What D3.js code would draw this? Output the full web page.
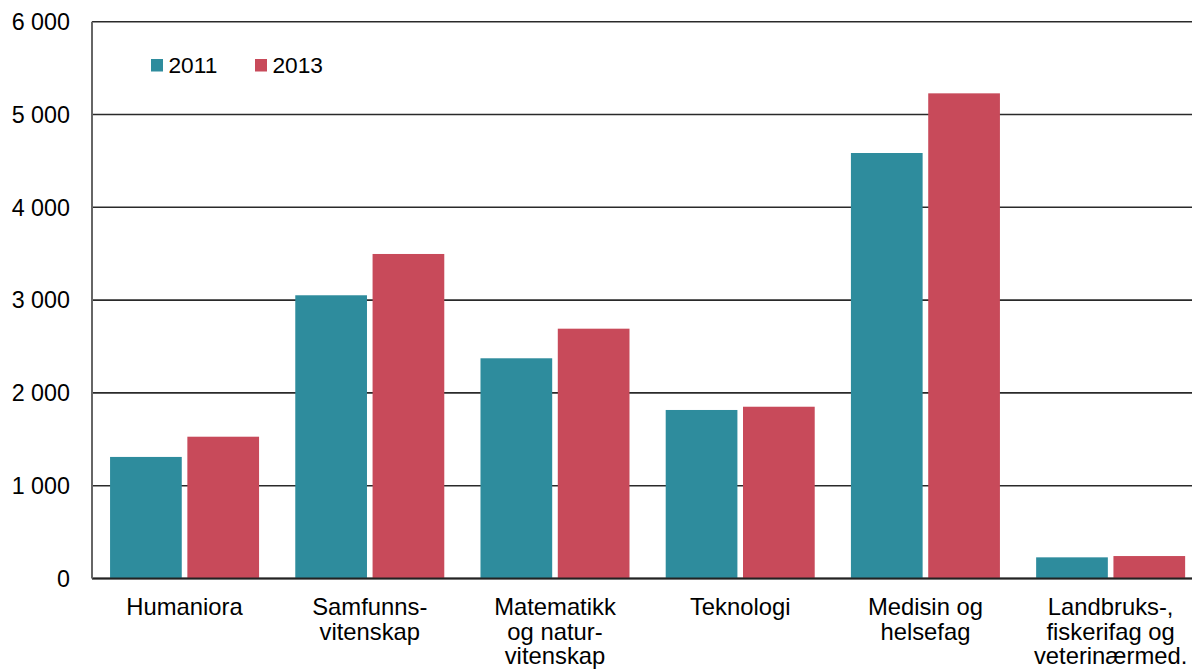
<!DOCTYPE html>
<html>
<head>
<meta charset="utf-8">
<script src="https://cdn.jsdelivr.net/npm/d3@7"></script>
<style>
  body { margin: 0; background: #fff; }
  svg { display: block; font-family: "Liberation Sans", Arial, sans-serif; }
</style>
</head>
<body>
<svg id="chart" width="1192" height="672"></svg>
<script>
const categories = [
  ["Humaniora"],
  ["Samfunns-", "vitenskap"],
  ["Matematikk", "og natur-", "vitenskap"],
  ["Teknologi"],
  ["Medisin og", "helsefag"],
  ["Landbruks-,", "fiskerifag og", "veterinærmed."]
];
const seriesNames = ["2011", "2013"];
const values2011 = [1310, 3052, 2373, 1816, 4585, 228];
const values2013 = [1528, 3497, 2692, 1851, 5228, 242];
const yTicks = [0, 1000, 2000, 3000, 4000, 5000, 6000];
const colors = ["#2e8c9d", "#c84a5a"];

(function () {
const svg = d3.select("#chart");
const mLeft = 92, mRight = 1192, bandEnd = 1203.2, mTop = 21.7, mBottom = 578.5;

const x0 = d3.scaleBand().domain(d3.range(categories.length)).range([mLeft, bandEnd])
  .paddingInner(0.1955).paddingOuter(0.0975);
const x1 = d3.scaleBand().domain(seriesNames).range([0, x0.bandwidth()]).paddingInner(0.0724);
const y = d3.scaleLinear().domain([0, 6000]).range([mBottom, mTop]);

const fmt = v => d3.format(",")(v).replace(/,/g, "\u00a0");

// gridlines
svg.append("g").selectAll("line").data(yTicks).join("line")
  .attr("x1", mLeft).attr("x2", mRight)
  .attr("y1", d => y(d)).attr("y2", d => y(d))
  .attr("stroke", "#2a2a2a").attr("stroke-width", 1.6);

// y tick labels
svg.append("g").selectAll("text").data(yTicks).join("text")
  .attr("x", 70).attr("y", d => y(d)).attr("dy", "0.36em")
  .attr("text-anchor", "end").attr("font-size", 23.3).attr("fill", "#000")
  .text(fmt);

// bars
const series = [values2011, values2013];
const g = svg.append("g");
seriesNames.forEach((s, si) => {
  g.selectAll(".b" + si).data(series[si]).join("rect")
    .attr("class", "b" + si)
    .attr("x", (d, i) => x0(i) + x1(s))
    .attr("y", d => y(d))
    .attr("width", x1.bandwidth())
    .attr("height", d => y(0) - y(d))
    .attr("fill", colors[si]);
});

// baseline & left axis
svg.append("line").attr("x1", mLeft).attr("x2", mRight).attr("y1", y(0)).attr("y2", y(0))
  .attr("stroke", "#222").attr("stroke-width", 1.8);
svg.append("line").attr("x1", mLeft).attr("x2", mLeft).attr("y1", mTop).attr("y2", y(0))
  .attr("stroke", "#666").attr("stroke-width", 2);

// x labels
const xl = svg.append("g");
categories.forEach((lines, i) => {
  const cx = x0(i) + x0.bandwidth() / 2;
  const t = xl.append("text")
    .attr("x", cx).attr("y", 615)
    .attr("text-anchor", "middle").attr("font-size", 23.8).attr("fill", "#000");
  lines.forEach((ln, j) => {
    t.append("tspan").attr("x", cx).attr("dy", j === 0 ? 0 : 24.5).text(ln);
  });
});

// legend
const legX = [151, 255];
seriesNames.forEach((s, i) => {
  svg.append("rect").attr("x", legX[i]).attr("y", 59).attr("width", 12).attr("height", 12.5).attr("fill", colors[i]);
  svg.append("text").attr("x", legX[i] + 17.5).attr("y", 72.7).attr("font-size", 22.7).attr("fill", "#000").text(s);
});
})();
</script>
</body>
</html>
